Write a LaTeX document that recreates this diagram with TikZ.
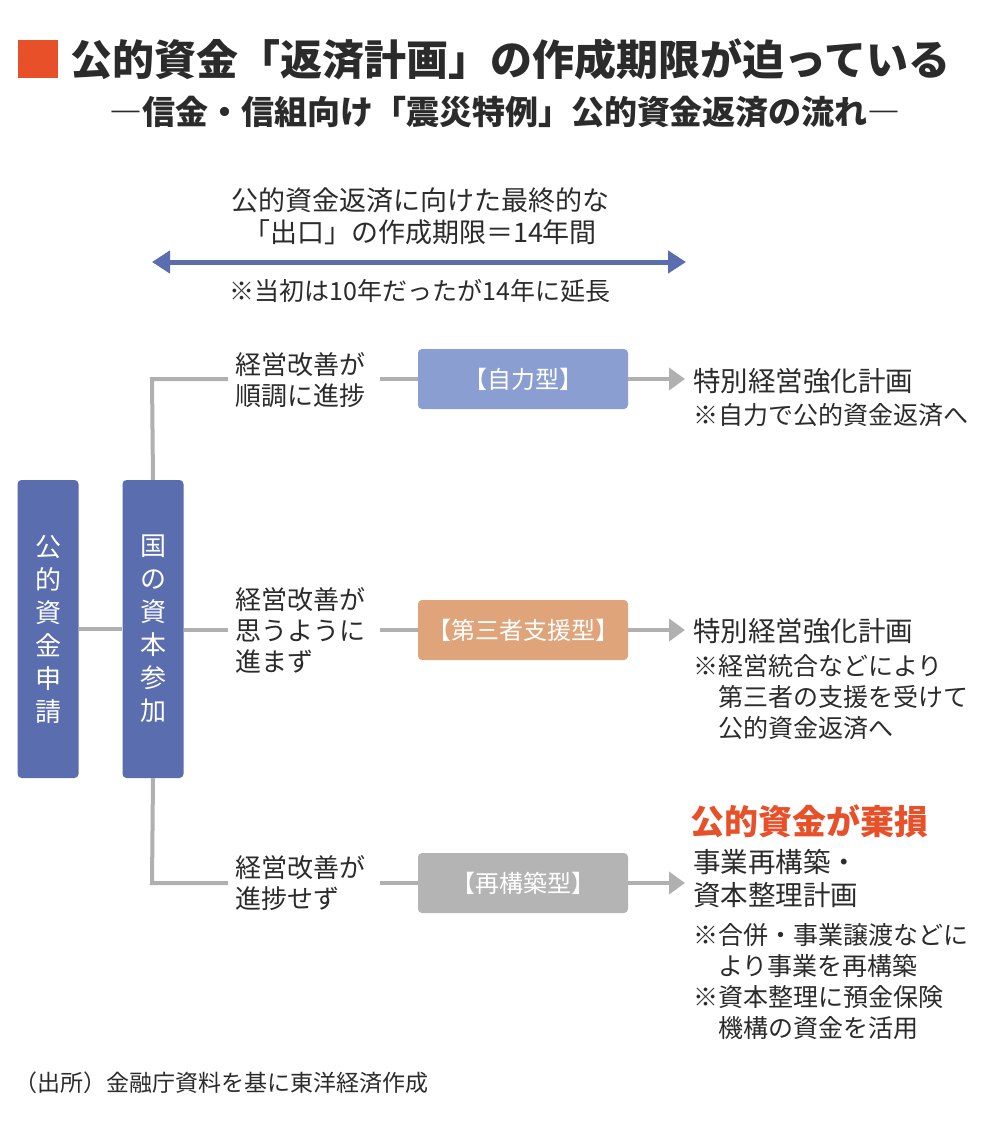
\documentclass[tikz,border=0pt]{standalone}
\usepackage{fontspec}
\setmainfont{Noto Sans CJK JP}
\usetikzlibrary{arrows.meta}
\definecolor{dblue}{HTML}{5A6DAE}
\definecolor{lblue}{HTML}{8B9ED2}
\definecolor{orng}{HTML}{E0A47A}
\definecolor{gbox}{HTML}{B4B4B4}
\definecolor{gline}{HTML}{B0B0B0}
\definecolor{redt}{HTML}{E8502A}
\definecolor{txt}{HTML}{2B2B2B}
\tikzset{
 vbox/.style={fill=dblue,rounded corners=4pt,minimum width=61pt,minimum height=298pt,text=white,font=\fontsize{26}{33}\selectfont,align=center,inner sep=0},
 tbox/.style={rounded corners=4pt,minimum width=210pt,minimum height=60pt,text=white,font=\fontsize{24}{28}\selectfont,inner sep=0},
 lbl/.style={text=txt,font=\fontsize{26}{31}\selectfont,align=left,anchor=west,inner sep=0},
 res/.style={text=txt,font=\fontsize{27.5}{33}\selectfont,anchor=west,inner sep=0},
 note/.style={text=txt,font=\fontsize{25}{31}\selectfont,align=left,anchor=north west,inner sep=0},
 gl/.style={draw=gline,line width=4pt},
 ga/.style={draw=gline,line width=4pt,-{Triangle[length=16pt,width=22pt]}}
}
\begin{document}
\begin{tikzpicture}[x=1pt,y=-1pt]
\useasboundingbox[fill=white] (0,0) rectangle (1000,1122);
\fill[redt] (18,40) rectangle (58,78);
\node[anchor=west,inner sep=0,text=txt,font=\bfseries\fontsize{42}{44}\selectfont] (title) at (70,59) {公的資金「返済計画」の作成期限が迫っている};
\node[inner sep=0,text=txt,font=\bfseries\fontsize{33}{34}\selectfont] (sub) at (505,112) {―信金・信組向け「震災特例」公的資金返済の流れ―};
\node[inner sep=0,text=txt,font=\fontsize{27}{32}\selectfont,align=center] (exit) at (420,216) {公的資金返済に向けた最終的な\\「出口」の作成期限＝14年間};
\coordinate (aL) at (152,262); \coordinate (aR) at (686,262);
\draw[dblue,line width=5pt,{Triangle[length=18pt,width=22pt]}-{Triangle[length=18pt,width=22pt]}] (aL) -- (aR);
\node[inner sep=0,text=txt,font=\fontsize{25}{28}\selectfont] (ext) at (420,291) {※当初は10年だったが14年に延長};
\node[vbox] (app) at (48,629) {公\\的\\資\\金\\申\\請};
\node[vbox] (cap) at (153,629) {国\\の\\資\\本\\参\\加};
\node[lbl] (l1) at (235,380) {経営改善が\\順調に進捗};
\node[lbl] (l2) at (235,630) {経営改善が\\思うように\\進まず};
\node[lbl] (l3) at (235,883) {経営改善が\\進捗せず};
\node[tbox,fill=lblue] (b1) at (523,379) {【自力型】};
\node[tbox,fill=orng] (b2) at (523,630) {【第三者支援型】};
\node[tbox,fill=gbox] (b3) at (523,883) {【再構築型】};
\coordinate (c1) at (152,379); \coordinate (c3) at (152,883);
\coordinate (e1) at (228,379); \coordinate (e2) at (228,630); \coordinate (e3) at (228,883);
\coordinate (f1) at (380,379); \coordinate (f2) at (380,630); \coordinate (f3) at (380,883);
\draw[gl] (app.east) -- (cap.west);
\draw[gl] (cap.east |- e2) -- (e2);
\draw[gl] (cap.north) -- (c1) -- (e1);
\draw[gl] (cap.south) -- (c3) -- (e3);
\draw[gl] (f1) -- (b1.west);
\draw[gl] (f2) -- (b2.west);
\draw[gl] (f3) -- (b3.west);
\node[res] (r1) at (693,381) {特別経営強化計画};
\node[res] (r2) at (693,631) {特別経営強化計画};
\draw[ga] (b1.east) -- ([xshift=-8pt]r1.west |- b1.east);
\draw[ga] (b2.east) -- ([xshift=-8pt]r2.west |- b2.east);
\node[note] (n1) at (693,403) {※自力で公的資金返済へ};
\node[note] (n2) at (693,654) {※経営統合などにより\\\hspace*{1em}第三者の支援を受けて\\\hspace*{1em}公的資金返済へ};
\node[anchor=west,inner sep=0,text=redt,font=\bfseries\fontsize{34}{36}\selectfont] (loss) at (690,821) {公的資金が棄損};
\node[res,align=left,anchor=north west] (r3) at (693,849) {事業再構築・\\資本整理計画};
\draw[ga] (b3.east) -- ([xshift=-8pt]r3.west |- b3.east);
\node[note] (n3) at (693,923) {※合併・事業譲渡などに\\\hspace*{1em}より事業を再構築\\※資本整理に預金保険\\\hspace*{1em}機構の資金を活用};
\node[anchor=west,inner sep=0,text=txt,font=\fontsize{23}{26}\selectfont] (src) at (14,1083) {（出所）金融庁資料を基に東洋経済作成};
\end{tikzpicture}
\end{document}
